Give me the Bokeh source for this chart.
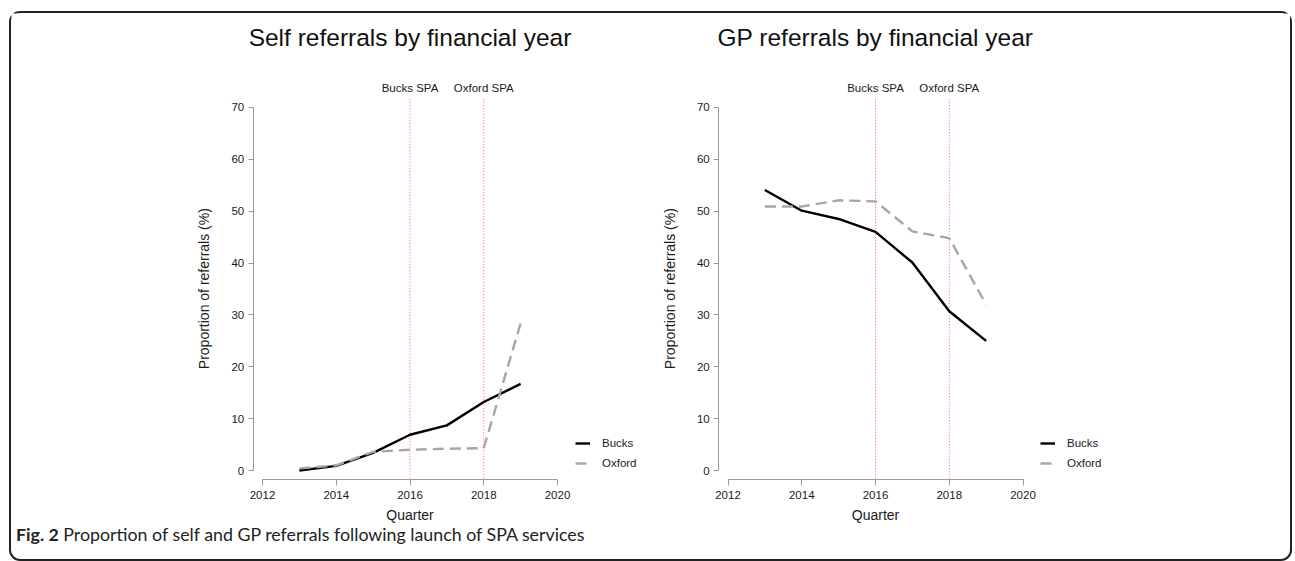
import math
from bokeh.plotting import figure
from bokeh.models import Legend, LegendItem, Div, Range1d, FixedTicker, LinearAxis
from bokeh.core.properties import value
from bokeh.layouts import column
from bokeh.embed import file_html
from bokeh.resources import INLINE

# ---- data ----
years = [2013, 2014, 2015, 2016, 2017, 2018, 2019]
self_bucks = [0.0, 0.9, 3.4, 6.9, 8.7, 13.2, 16.7]
self_oxford = [0.4, 1.0, 3.6, 4.0, 4.2, 4.3, 28.4]
gp_bucks = [54.1, 50.1, 48.5, 46.0, 40.1, 30.7, 25.0]
gp_oxford = [50.9, 50.9, 52.1, 51.9, 46.1, 44.8, 32.0]
series_names = ["Bucks", "Oxford"]
spa_years = [2016, 2018]
spa_labels = ["Bucks SPA", "Oxford SPA"]
x_ticks = [2012, 2014, 2016, 2018, 2020]
y_ticks = [0, 10, 20, 30, 40, 50, 60, 70]
titles = ["Self referrals by financial year", "GP referrals by financial year"]
x_label = "Quarter"
y_label = "Proportion of referrals (%)"
caption_bold = "Fig. 2"
caption_text = "Proportion of self and GP referrals following launch of SPA services"

FONT = "Liberation Sans"
AXIS_GRAY = "#9a9a9a"
TEXT = "#1a1a1a"

# ---- geometry (figure pixels) ----
W, H = 1279, 512
PX_YEAR = 36.875
PX_UNIT = 5.186
ZERO_FROM_BOTTOM = 55.0                # y = 0 sits 55px above the figure bottom
Y_START = -ZERO_FROM_BOTTOM / PX_UNIT
Y_END = Y_START + H / PX_UNIT
Y_AXIS_LINE = -9.3 / PX_UNIT           # x axis drawn just below 0 (R style)
Y_REGION_TOP = 70 + 10 / PX_UNIT       # top of R plot region (end of red lines)
Y_SPA = 70 + 19 / PX_UNIT
Y_TITLE = 70 + 70 / PX_UNIT
Y_XLABEL = -44 / PX_UNIT
Y_MID = (Y_AXIS_LINE + Y_REGION_TOP) / 2
X_AXIS_OFF = 9.3 / PX_YEAR             # y axis sits left of 2012
YLAB_OFF = 58.5 / PX_YEAR              # y label centre left of 2012

panel_px_2012 = [251.0, 716.5]          # where 2012 falls in each panel
legend_px = [564, 1029]
range_names = ["default", "gp"]

ranges = []
for px in panel_px_2012:
    start = 2012 - px / PX_YEAR
    ranges.append(Range1d(start, start + W / PX_YEAR))

p = figure(width=W, height=H, min_border=0,
           x_range=ranges[0], y_range=Range1d(Y_START, Y_END),
           output_backend="svg", toolbar_location=None, tools="",
           background_fill_color="white", border_fill_color="white")
p.extra_x_ranges = {"gp": ranges[1]}
p.outline_line_color = None
p.grid.visible = False
p.xaxis.visible = False
p.yaxis.visible = False


def style_axis(ax, ticks, lo, hi):
    ax.ticker = FixedTicker(ticks=ticks)
    ax.bounds = (lo, hi)
    ax.axis_line_color = AXIS_GRAY
    ax.major_tick_line_color = AXIS_GRAY
    ax.minor_tick_line_color = None
    ax.major_tick_in = 0
    ax.major_label_text_font = FONT
    ax.major_label_text_font_size = "11.5px"
    ax.major_label_text_color = TEXT


panels = [(titles[0], self_bucks, self_oxford), (titles[1], gp_bucks, gp_oxford)]
for i, (title, bucks, oxford) in enumerate(panels):
    rn = range_names[i]
    xa = LinearAxis(x_range_name=rn, fixed_location=Y_AXIS_LINE)
    style_axis(xa, x_ticks, 2012, 2020)
    xa.major_tick_out = 6
    xa.major_label_standoff = 5
    p.add_layout(xa, "below")

    ya = LinearAxis(x_range_name=rn, fixed_location=2012 - X_AXIS_OFF)
    style_axis(ya, y_ticks, 0, 70)
    ya.major_tick_out = 5
    ya.major_label_standoff = 4
    p.add_layout(ya, "left")

    # titles and axis labels
    p.text(x=[2016], y=[Y_TITLE], text=[title], x_range_name=rn,
           text_align="center", text_baseline="middle", text_font=value(FONT),
           text_font_size="24.5px", text_color="#111111")
    p.text(x=[2016], y=[Y_XLABEL], text=[x_label], x_range_name=rn,
           text_align="center", text_baseline="middle", text_font=value(FONT),
           text_font_size="14px", text_color=TEXT)
    p.text(x=[2012 - YLAB_OFF], y=[Y_MID], text=[y_label], x_range_name=rn,
           angle=math.pi / 2, text_align="center", text_baseline="middle",
           text_font=value(FONT), text_font_size="14px", text_color=TEXT)

    # SPA launch markers
    n = len(spa_years)
    p.segment(x0=spa_years, y0=[Y_AXIS_LINE + 0.3] * n, x1=spa_years,
              y1=[Y_REGION_TOP] * n, x_range_name=rn, line_color="#ff5c5c",
              line_dash="1 2", line_width=1)
    p.text(x=spa_years, y=[Y_SPA] * n, text=spa_labels, x_range_name=rn,
           text_align="center", text_baseline="middle", text_font=value(FONT),
           text_font_size="11.5px", text_color=TEXT)

    r_b = p.line(years, bucks, x_range_name=rn, line_color="black", line_width=2.4)
    r_o = p.line(years, oxford, x_range_name=rn, line_color="#a6a6a6",
                 line_width=2.4, line_dash="11 6")

    leg = Legend(items=[LegendItem(label=series_names[0], renderers=[r_b]),
                        LegendItem(label=series_names[1], renderers=[r_o])],
                 location=(legend_px[i], 52), orientation="vertical",
                 glyph_width=15, glyph_height=20, label_height=20,
                 label_standoff=12, spacing=0, padding=4, margin=0,
                 border_line_color=None, background_fill_alpha=0,
                 label_text_font=FONT, label_text_font_size="11.5px",
                 label_text_color=TEXT)
    p.add_layout(leg, "center")

cap = Div(text=f"<b>{caption_bold}</b> {caption_text}", width=W - 20, height=30,
          styles={"font-family": "Lato", "font-size": "17.8px", "color": "#222",
                  "padding-left": "0px", "line-height": "20px",
                  "margin-top": "-1px"})

layout = column(p, cap,
                styles={"border": "2px solid #222", "border-radius": "11px",
                        "background-color": "white", "margin": "11px 0 0 9px"})

open("out.html", "w").write(file_html(layout, INLINE))
